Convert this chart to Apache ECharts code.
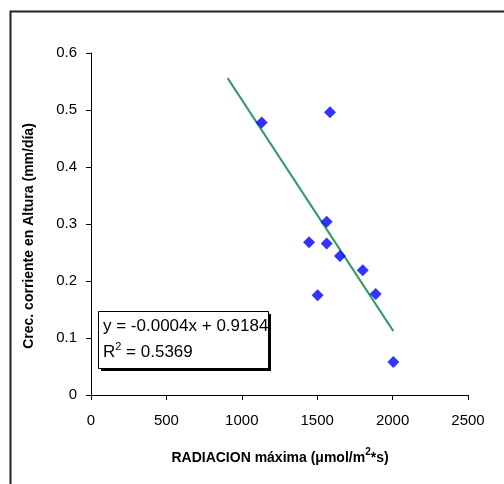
<!DOCTYPE html>
<html>
<head>
<meta charset="utf-8">
<script src="https://cdn.jsdelivr.net/npm/echarts@6/dist/echarts.min.js"></script>
<style>html,body{margin:0;padding:0;background:#fff;}#c{width:504px;height:484px;}</style>
</head>
<body>
<div id="c"></div>
<script>
var radiacion = [1132, 1585, 1563, 1446, 1563, 1651, 1802, 1888, 1503, 2005];
var crecimiento = [0.478, 0.496, 0.304, 0.268, 0.266, 0.244, 0.219, 0.177, 0.175, 0.058];
var trendX = [906, 2005];
var trendY = [0.556, 0.112];
var xTicks = [0, 500, 1000, 1500, 2000, 2500];
var yTicks = [0, 0.1, 0.2, 0.3, 0.4, 0.5, 0.6];
var equationText = 'y = -0.0004x + 0.9184';
var r2Value = '0.5369';

var font = 'Arial, "Liberation Sans", sans-serif';
var chart = echarts.init(document.getElementById('c'), null, {renderer: 'canvas'});
var pts = radiacion.map(function (x, i) { return [x, crecimiento[i]]; });
var trend = trendX.map(function (x, i) { return [x, trendY[i]]; });

chart.setOption({
  animation: false,
  backgroundColor: '#fff',
  grid: {left: 91, right: 36, top: 53, bottom: 89, containLabel: false},
  xAxis: {
    type: 'value', min: xTicks[0], max: xTicks[xTicks.length - 1], interval: 500,
    axisLine: {show: true, lineStyle: {color: '#000', width: 1}},
    axisTick: {show: true, inside: false, length: 5, lineStyle: {color: '#000'}},
    splitLine: {show: false},
    axisLabel: {color: '#000', fontSize: 15, fontFamily: font, margin: 18,
      formatter: function (v) { return String(v); }}
  },
  yAxis: {
    type: 'value', min: yTicks[0], max: yTicks[yTicks.length - 1], interval: 0.1,
    axisLine: {show: true, lineStyle: {color: '#000', width: 1}},
    axisTick: {show: true, inside: false, length: 5, lineStyle: {color: '#000'}},
    splitLine: {show: false},
    axisLabel: {color: '#000', fontSize: 15, fontFamily: font, margin: 14,
      formatter: function (v) { return String(Math.round(v * 10) / 10); }}
  },
  series: [
    {type: 'line', data: trend, symbol: 'none', lineStyle: {color: '#339966', width: 2}, z: 2},
    {type: 'scatter', data: pts, symbol: 'diamond', symbolSize: 12, itemStyle: {color: '#0000FF'}, z: 3}
  ],
  graphic: [
    {type: 'rect', left: 8, top: 9, shape: {width: 600, height: 600}, style: {fill: 'none', stroke: '#222', lineWidth: 2}, silent: true, z: 0},
    {type: 'rect', left: 101, top: 314, shape: {width: 170, height: 57}, style: {fill: '#000'}, z: 10},
    {type: 'rect', left: 98, top: 311, shape: {width: 170, height: 57}, style: {fill: '#fff', stroke: '#000', lineWidth: 1}, z: 11},
    {type: 'text', left: 103, top: 318, z: 12, style: {text: equationText, font: '17px ' + font, fill: '#000'}},
    {type: 'text', left: 103, top: 341, z: 12, style: {
      text: '{b|R}{s|2}{b| = ' + r2Value + '}', fill: '#000',
      rich: {b: {fontSize: 17, fontFamily: font, verticalAlign: 'bottom', lineHeight: 20}, s: {fontSize: 11, fontFamily: font, verticalAlign: 'top', lineHeight: 20}}
    }},
    {type: 'text', x: 280, y: 456, z: 12, style: {
      text: '{t|RADIACION máxima (μmol/m}{s|2}{t|*s)}', align: 'center', verticalAlign: 'middle', fill: '#000',
      rich: {t: {fontSize: 14, fontWeight: 'bold', fontFamily: font, verticalAlign: 'bottom', lineHeight: 18}, s: {fontSize: 10, fontWeight: 'bold', fontFamily: font, verticalAlign: 'top', lineHeight: 18}}
    }},
    {type: 'text', x: 29, y: 236, rotation: Math.PI / 2, z: 12, style: {
      text: 'Crec. corriente en Altura (mm/día)', align: 'center', verticalAlign: 'middle', fill: '#000',
      font: 'bold 14px ' + font
    }}
  ]
});
</script>
</body>
</html>
